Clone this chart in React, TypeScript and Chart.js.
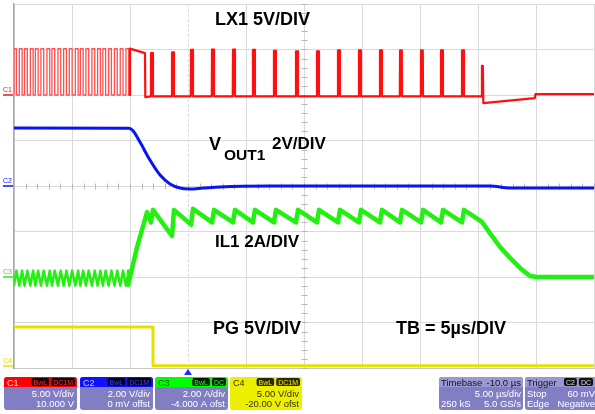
import React, { useEffect, useRef } from "react";
import { Chart, registerables } from "chart.js";

Chart.register(...registerables);

const W = 595;
const H = 414;
const FONT = '"Liberation Sans", Arial, Helvetica, sans-serif';

// ---- axes: time in µs from the left edge of the screen (5 µs/div), vertical in divisions
const timeGridTicks = [0, 5, 10, 15, 20, 25, 30, 35, 40, 45, 50];
const divGridTicks = [-4, -3, -2, -1, 0, 1, 2, 3, 4];
const triggerTime = 15;
const centerTime = 25;

// ---- channel settings (units per div, offset in units)
const channelScale = [5, 2, 2, 5];
const channelOffset = [10, 0, -4, -20];

// ---- C1: LX1 (V)
const lxBurstRise = [0.0, 0.46, 0.91, 1.41, 1.84, 2.32, 2.84, 3.27, 3.79, 4.28, 4.77, 5.29, 5.72, 6.2, 6.72, 7.21, 7.66, 8.16, 8.66, 9.16, 9.65];
const lxBurstFall = [0.21, 0.7, 1.15, 1.65, 2.08, 2.56, 3.08, 3.51, 4.03, 4.52, 5.01, 5.53, 5.96, 6.44, 6.96, 7.45, 7.9, 8.4, 8.9, 9.4, 9.89];
const lxBurstHigh = 5.1;
const lxBurstLow = 0.0;
const lxTransition: [number, number][] = [[10.0, 0.0], [10.0, 5.1], [11.29, 4.6], [11.32, -0.25]];
const lxPulseTimes = [11.81, 13.62, 15.26, 17.07, 18.88, 20.6, 22.41, 24.31, 26.12, 27.93, 29.74, 31.55, 33.28, 35.09, 36.81, 38.62];
const lxPulsePeaks = [4.6, 4.7, 4.95, 5.0, 5.0, 4.95, 4.85, 4.8, 4.8, 4.9, 4.9, 4.9, 4.9, 4.9, 4.9, 4.9];
const lxPulseBase = -0.15;
const lxPulseWidth = 0.15;
const lxTail: [number, number][] = [[40.3, -0.15], [40.34, 3.2], [40.42, 3.2], [40.46, -0.9], [44.9, -0.35], [44.95, 0.1], [50, 0.1]];

// ---- C2: VOUT1 (V)
const voutPoints: [number, number][] = [
  [0, 2.55], [9.9, 2.54], [10.26, 2.43], [10.86, 1.93], [11.72, 1.14], [12.59, 0.48], [13.45, 0.09],
  [14.31, -0.09], [15.17, -0.13], [16.29, -0.09], [17.76, -0.04], [22.07, 0.0], [26.38, 0.0],
  [33.28, 0.0], [41.03, 0.0], [42.76, -0.09], [50, -0.09],
];

// ---- C3: IL1 (A)
const ilBurstValley = -0.38;
const ilBurstPeak = 0.28;
const ilRamp: [number, number][] = [[9.83, -0.38], [10.6, 1.3], [11.47, 2.85]];
const ilValleys = [2.4, 1.8, 2.3, 2.4, 2.4, 2.4, 2.4, 2.4, 2.4, 2.4, 2.4, 2.4, 2.4, 2.4, 2.4, 2.4];
const ilPeaks = [2.95, 2.95, 3.0, 2.95, 2.95, 2.95, 2.95, 2.95, 2.95, 2.95, 2.95, 2.95, 2.95, 2.95, 2.95, 2.95];
const ilTail: [number, number][] = [[40.34, 2.42], [41.03, 1.93], [41.9, 1.32], [42.76, 0.84], [43.62, 0.4], [44.48, 0.04], [45.09, 0.0], [50, 0.0]];

// ---- C4: PG (V)
const pgPoints: [number, number][] = [[0, 4.5], [11.98, 4.5], [11.98, 0.25], [50, 0.25]];

// ---- build traces
const lxPoints: [number, number][] = [];
lxBurstRise.forEach((r, i) => {
  lxPoints.push([r, lxBurstLow], [r, lxBurstHigh], [lxBurstFall[i], lxBurstHigh], [lxBurstFall[i], lxBurstLow]);
});
lxPoints.push(...lxTransition);
lxPulseTimes.forEach((t, i) => {
  lxPoints.push([t - 0.02, lxPulseBase], [t, lxPulsePeaks[i]], [t + lxPulseWidth, lxPulsePeaks[i]], [t + lxPulseWidth + 0.02, lxPulseBase]);
});
lxPoints.push(...lxTail);

const ilPoints: [number, number][] = [];
lxBurstRise.forEach((r, i) => {
  if (r < 9.8) ilPoints.push([r, ilBurstValley], [lxBurstFall[i], ilBurstPeak]);
});
ilPoints.push(...ilRamp);
lxPulseTimes.forEach((t, i) => {
  ilPoints.push([t, ilValleys[i]], [t + 0.17, ilPeaks[i]]);
});
ilPoints.push(...ilTail);

const toDiv = (pts: [number, number][], ch: number) =>
  pts.map(([t, v]) => ({ x: t, y: (v + channelOffset[ch]) / channelScale[ch] }));

const traceColors = ["#ff1010", "#0a14f0", "#22f010", "#e6e200"];
const burstColors = ["#ff5050", "#0a14f0", "#22f010", "#e6e200"];
const burstWidths = [1.3, 3, 2.5, 3];
const traceWidths = [2.2, 3, 4.5, 3];

const panelBody = "#827ec4";

function drawPanels(ctx: CanvasRenderingContext2D) {
  const chPanels = [
    { x: 4, w: 73, name: "C1", head: "#ff0000", nameCol: "#ffe0e0", badgeBg: "#1a0000", badgeCol: "#ff3030", badges: ["BwL", "DC1M"], l1: "5.00 V/div", l2: "10.000 V", body: panelBody, bodyText: "#ffffff" },
    { x: 80, w: 73, name: "C2", head: "#1010ff", nameCol: "#c8c8ff", badgeBg: "#00001a", badgeCol: "#4040ff", badges: ["BwL", "DC1M"], l1: "2.00 V/div", l2: "0 mV offst", body: panelBody, bodyText: "#ffffff" },
    { x: 155, w: 73, name: "C3", head: "#00ff00", nameCol: "#104010", badgeBg: "#001a00", badgeCol: "#20ff20", badges: ["BwL", "DC"], l1: "2.00 A/div", l2: "-4.000 A ofst", body: panelBody, bodyText: "#ffffff" },
    { x: 230, w: 72, name: "C4", head: "#eeee00", nameCol: "#303000", badgeBg: "#2a2a00", badgeCol: "#eeee00", badges: ["BwL", "DC1M"], l1: "5.00 V/div", l2: "-20.00 V ofst", body: "#eeee00", bodyText: "#303000" },
  ];
  const top = 377, h = 33, hh = 10;
  chPanels.forEach((p) => {
    ctx.save();
    ctx.beginPath();
    (ctx as any).roundRect(p.x, top, p.w, h, 3);
    ctx.fillStyle = p.body;
    ctx.fill();
    ctx.clip();
    ctx.fillStyle = p.head;
    ctx.fillRect(p.x, top, p.w, hh);
    ctx.restore();
    ctx.font = `9px ${FONT}`;
    ctx.textBaseline = "alphabetic";
    ctx.textAlign = "left";
    ctx.fillStyle = p.nameCol;
    ctx.fillText(p.name, p.x + 3, top + 9);
    ctx.font = `7px ${FONT}`;
    let bx = p.x + p.w - 2;
    for (let i = p.badges.length - 1; i >= 0; i--) {
      const tw = ctx.measureText(p.badges[i]).width + 4;
      bx -= tw;
      ctx.beginPath();
      (ctx as any).roundRect(bx, top + 1, tw, 8, 2);
      ctx.fillStyle = p.badgeBg;
      ctx.fill();
      ctx.fillStyle = p.badgeCol;
      ctx.fillText(p.badges[i], bx + 2, top + 7.5);
      bx -= 2;
    }
    ctx.font = `9.5px ${FONT}`;
    ctx.textAlign = "right";
    ctx.fillStyle = p.bodyText;
    ctx.fillText(p.l1, p.x + p.w - 3, top + 20);
    ctx.fillText(p.l2, p.x + p.w - 3, top + 30);
  });

  const boxes = [
    { x: 439, w: 84, head: ["Timebase", "-10.0 µs"], r1: ["", "5.00 µs/div"], r2: ["250 kS", "5.0 GS/s"], badges: [] as string[] },
    { x: 525, w: 72, head: ["Trigger", ""], r1: ["Stop", "60 mV"], r2: ["Edge", "Negative"], badges: ["C2", "DC"] },
  ];
  boxes.forEach((b) => {
    ctx.save();
    ctx.beginPath();
    (ctx as any).roundRect(b.x, top, b.w, h, 3);
    ctx.fillStyle = panelBody;
    ctx.fill();
    ctx.clip();
    ctx.fillStyle = "#9c98d4";
    ctx.fillRect(b.x, top, b.w, hh);
    ctx.restore();
    ctx.font = `9.5px ${FONT}`;
    ctx.textAlign = "left";
    ctx.fillStyle = "#101020";
    ctx.fillText(b.head[0], b.x + 2, top + 9);
    ctx.textAlign = "right";
    if (b.head[1]) ctx.fillText(b.head[1], b.x + b.w - 2, top + 9);
    ctx.fillStyle = "#ffffff";
    ctx.textAlign = "left";
    ctx.fillText(b.r1[0], b.x + 2, top + 20);
    ctx.fillText(b.r2[0], b.x + 2, top + 30);
    ctx.textAlign = "right";
    ctx.fillText(b.r1[1], b.x + b.w - 2, top + 20);
    ctx.fillText(b.r2[1], b.x + b.w - 2, top + 30);
    if (b.badges.length) {
      ctx.font = `7px ${FONT}`;
      ctx.textAlign = "left";
      let bx = b.x + b.w - 4;
      for (let i = b.badges.length - 1; i >= 0; i--) {
        const tw = ctx.measureText(b.badges[i]).width + 4;
        bx -= tw;
        ctx.beginPath();
        (ctx as any).roundRect(bx, top + 1, tw, 8, 2);
        ctx.fillStyle = "#101010";
        ctx.fill();
        ctx.fillStyle = "#e0e0e0";
        ctx.fillText(b.badges[i], bx + 2, top + 7.5);
        bx -= 2;
      }
    }
  });
}

const overlayPlugin = {
  id: "scopeOverlay",
  beforeDatasetsDraw(chart: any) {
    const { ctx, scales } = chart;
    const x = scales.x, y = scales.y;
    ctx.save();
    ctx.strokeStyle = "#b8b8b8";
    ctx.lineWidth = 1;
    const cx = Math.round(x.getPixelForValue(centerTime)) + 0.5;
    const cy = Math.round(y.getPixelForValue(0)) + 0.5;
    ctx.beginPath();
    for (let d = -4; d <= 4.001; d += 0.2) {
      const py = Math.round(y.getPixelForValue(d)) + 0.5;
      ctx.moveTo(cx - 3, py);
      ctx.lineTo(cx + 3, py);
    }
    for (let t = 0; t <= 50.001; t += 1) {
      const px = Math.round(x.getPixelForValue(t)) + 0.5;
      ctx.moveTo(px, cy - 3);
      ctx.lineTo(px, cy + 3);
    }
    ctx.stroke();
    ctx.restore();
  },
  afterDraw(chart: any) {
    const { ctx, scales } = chart;
    const x = scales.x, y = scales.y;
    ctx.save();
    ctx.fillStyle = "#000000";
    ctx.textBaseline = "alphabetic";
    ctx.textAlign = "left";
    ctx.font = `bold 18px ${FONT}`;
    ctx.fillText("LX1 5V/DIV", 215, 25);
    ctx.fillText("V", 209, 150);
    ctx.font = `bold 15.5px ${FONT}`;
    ctx.fillText("OUT1", 224, 160);
    ctx.font = `bold 17px ${FONT}`;
    ctx.fillText("2V/DIV", 272, 149);
    ctx.fillText("IL1 2A/DIV", 215, 247);
    ctx.font = `bold 18px ${FONT}`;
    ctx.fillText("PG 5V/DIV", 213, 334);
    ctx.fillText("TB = 5µs/DIV", 396, 334);

    ctx.font = `7px ${FONT}`;
    [0, 1, 2, 3].forEach((ch) => {
      const py = y.getPixelForValue(channelOffset[ch] / channelScale[ch]);
      const lvl = Math.min(py, 366);
      ctx.fillStyle = traceColors[ch];
      ctx.strokeStyle = traceColors[ch];
      ctx.lineWidth = 1.5;
      ctx.fillText(`C${ch + 1}`, 3, lvl - 3);
      ctx.beginPath();
      ctx.moveTo(3, lvl);
      ctx.lineTo(13, lvl);
      ctx.stroke();
    });

    const tx = x.getPixelForValue(triggerTime);
    const by = y.getPixelForValue(-4);
    ctx.fillStyle = "#1830ff";
    ctx.beginPath();
    ctx.moveTo(tx, by + 1);
    ctx.lineTo(tx - 4, by + 7);
    ctx.lineTo(tx + 4, by + 7);
    ctx.closePath();
    ctx.fill();

    drawPanels(ctx);
    ctx.restore();
  },
};

export default function App() {
  const ref = useRef<HTMLCanvasElement | null>(null);
  useEffect(() => {
    document.body.style.margin = "0";
    const canvas = ref.current;
    if (!canvas) return;
    const datasets = [lxPoints, voutPoints, ilPoints, pgPoints].map((pts, ch) => ({
      data: toDiv(pts, ch),
      borderColor: traceColors[ch],
      backgroundColor: traceColors[ch],
      borderWidth: traceWidths[ch],
      showLine: true,
      pointRadius: 0,
      tension: 0,
      cubicInterpolationMode: ch === 1 ? ("monotone" as const) : ("default" as const),
      borderJoinStyle: "round" as const,
      segment: {
        borderWidth: (c: any) => (c.p1.parsed.x <= 9.9 ? burstWidths[ch] : traceWidths[ch]),
        borderColor: (c: any) => (c.p1.parsed.x <= 9.9 ? burstColors[ch] : traceColors[ch]),
      },
    }));
    const chart = new Chart(canvas, {
      type: "scatter",
      data: { datasets },
      options: {
        animation: false,
        responsive: false,
        maintainAspectRatio: false,
        events: [],
        layout: { padding: { left: 14, top: 4, right: 1, bottom: 46 } },
        plugins: { legend: { display: false }, tooltip: { enabled: false } },
        scales: {
          x: {
            type: "linear",
            min: 0,
            max: 50,
            afterBuildTicks: (s: any) => {
              s.ticks = timeGridTicks.map((v) => ({ value: v }));
            },
            ticks: { display: false },
            grid: { color: "#dadada", lineWidth: 1, drawTicks: false },
            border: {
              display: true,
              color: "#c8c8c8",
              width: 1,
              dash: (c: any) => (c.tick && c.tick.value === triggerTime ? [3, 2] : []),
            },
          },
          y: {
            type: "linear",
            min: -4,
            max: 4,
            afterBuildTicks: (s: any) => {
              s.ticks = divGridTicks.map((v) => ({ value: v }));
            },
            ticks: { display: false },
            grid: { color: "#dadada", lineWidth: 1, drawTicks: false },
            border: { display: true, color: "#a8a8a8", width: 1.5 },
          },
        },
      },
      plugins: [overlayPlugin],
    });
    return () => chart.destroy();
  }, []);
  return (
    <div style={{ position: "fixed", left: 0, top: 0, width: W, height: H, background: "#ffffff" }}>
      <canvas ref={ref} width={W} height={H} style={{ display: "block", width: W, height: H }} />
    </div>
  );
}
